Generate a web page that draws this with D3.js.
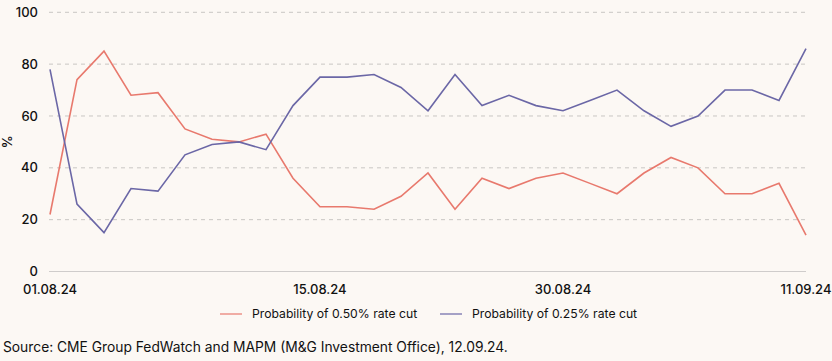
<!DOCTYPE html>
<html><head><meta charset="utf-8">
<script src="https://cdn.jsdelivr.net/npm/d3@7"></script>
<style>
html,body{margin:0;padding:0;background:#fcf8f4;}
svg{display:block;font-family:"Inter","Liberation Sans",Arial,sans-serif;}
</style></head>
<body><svg id="chart" width="832" height="361"></svg>
<script>
const categories = d3.range(29);
const tickIndices = [0, 10, 19, 28];
const tickLabels = ["01.08.24", "15.08.24", "30.08.24", "11.09.24"];
const yTicks = [0, 20, 40, 60, 80, 100];
const seriesNames = ["Probability of 0.50% rate cut", "Probability of 0.25% rate cut"];
const cut50 = [22,74,85,68,69,55,51,50,53,36,25,25,24,29,38,24,36,32,36,38,34,30,38,44,40,30,30,34,14];
const cut25 = [78,26,15,32,31,45,49,50,47,64,75,75,76,71,62,76,64,68,64,62,66,70,62,56,60,70,70,66,86];
const colors = ["#e8796d", "#6b67a6"];
const sourceText = "Source: CME Group FedWatch and MAPM (M&G Investment Office), 12.09.24.";

const svg = d3.select("#chart");
const x = d3.scalePoint().domain(categories).range([50, 806]);
const y = d3.scaleLinear().domain([0, 100]).range([271.5, 12.3]);

// gridlines
svg.append("g").selectAll("line").data(yTicks.filter(d => d > 0)).join("line")
  .attr("x1", 49).attr("x2", 806)
  .attr("y1", d => y(d)).attr("y2", d => y(d))
  .attr("stroke", "#c9c6c3").attr("stroke-width", 1).attr("stroke-dasharray", "4,4");
svg.append("line").attr("x1", 49).attr("x2", 806).attr("y1", y(0)).attr("y2", y(0))
  .attr("stroke", "#cfcccb").attr("stroke-width", 1);

// y tick labels
svg.append("g").selectAll("text").data(yTicks).join("text")
  .attr("x", 38).attr("y", d => y(d)).attr("dy", "0.35em")
  .attr("text-anchor", "end").attr("font-size", 13).attr("font-weight", 500)
  .attr("fill", "#111").text(d => d);

// y axis title
svg.append("text").attr("transform", `translate(12,${y(50)}) rotate(-90)`)
  .attr("text-anchor", "middle").attr("font-size", 13).attr("font-weight", 500)
  .attr("fill", "#111").text("%");

// x tick labels
svg.append("g").selectAll("text").data(tickIndices).join("text")
  .attr("x", (d) => x(categories[d])).attr("y", 289).attr("dy", "0.35em")
  .attr("text-anchor", "middle").attr("font-size", 13).attr("font-weight", 500)
  .attr("fill", "#111").text((d, i) => tickLabels[i]);

// lines
const line = d3.line().x((d, i) => x(categories[i])).y(d => y(d));
[cut50, cut25].forEach((s, k) => {
  svg.append("path").datum(s).attr("d", line).attr("fill", "none")
    .attr("stroke", colors[k]).attr("stroke-width", 1.6).attr("stroke-linejoin", "miter");
});

// legend
const legX = [220, 440];
seriesNames.forEach((n, k) => {
  const g = svg.append("g").attr("transform", `translate(${legX[k]},314)`);
  g.append("line").attr("x1", 0).attr("x2", 22).attr("y1", 0).attr("y2", 0)
    .attr("stroke", colors[k]).attr("stroke-width", 1.2);
  g.append("text").attr("x", 32).attr("y", 0).attr("dy", "0.35em")
    .attr("font-size", 12.2).attr("fill", "#111").text(n);
});

// source
svg.append("text").attr("x", 3).attr("y", 352).attr("font-size", 13.8)
  .attr("fill", "#111").text(sourceText);
</script></body></html>
